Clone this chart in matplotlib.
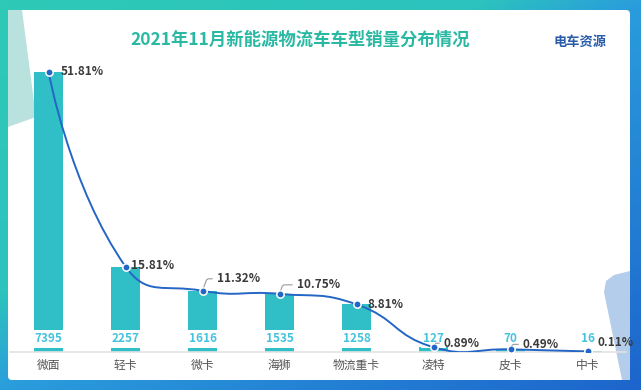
import numpy as np
import matplotlib.pyplot as plt
from matplotlib.path import Path
from matplotlib.patches import PathPatch, FancyBboxPatch, Polygon
from matplotlib.colors import LinearSegmentedColormap

plt.rcParams['font.family'] = ['Noto Sans CJK SC', 'DejaVu Sans']

# data
categories = ['微面', '轻卡', '微卡', '海狮', '物流重卡', '凌特', '皮卡', '中卡']
sales = [7395, 2257, 1616, 1535, 1258, 127, 70, 16]
shares = [51.81, 15.81, 11.32, 10.75, 8.81, 0.89, 0.49, 0.11]
title = '2021年11月新能源物流车车型销量分布情况'

# label offsets in px (dx, dy up), and whether a leader line is drawn
pct_offsets = [(12, 0), (5, 1), (14, 12), (17, 9), (11, 0), (10, 4), (12, 5), (10, 9)]
pct_leader = [False, False, True, True, False, True, True, False]

W, H = 641, 390
fig = plt.figure(figsize=(W / 100, H / 100), dpi=100)

# background frame with gradient
bg = fig.add_axes([0, 0, 1, 1])
bg.set_axis_off()
yy, xx = np.mgrid[0:H, 0:W]
t = (xx / W + yy / H) / 2
cmap = LinearSegmentedColormap.from_list(
    'frame', [(0, '#2ecab6'), (0.38, '#2cc2bf'), (0.5, '#2a9ddc'), (1, '#1d64cc')])
bg.imshow(t, cmap=cmap, extent=[0, W, H, 0], aspect='auto', vmin=0, vmax=1)
bg.set_xlim(0, W)
bg.set_ylim(H, 0)
bg.add_patch(FancyBboxPatch((8, 10), 622, 370, boxstyle='round,pad=0,rounding_size=4',
                            fc='white', ec='none'))
bg.add_patch(Polygon([(8, 10), (22, 10), (36, 117), (8, 127)], closed=True,
                     fc='#b9e1dd', ec='none'))
bg.add_patch(Polygon([(604, 292), (606, 281), (614, 275), (630, 271), (630, 380), (622, 380)],
                     closed=True, fc='#b3cdea', ec='none'))

fig.text(300 / W, 1 - 40 / H, title, ha='center', va='center', fontsize=12.5,
         fontweight='bold', color='#29b9a3')
fig.text(580 / W, 1 - 42 / H, '电车资源', ha='center', va='center', fontsize=9.5,
         fontweight='bold', color='#2a5caa')

# main chart
ax = fig.add_axes([10 / W, 38 / H, 616 / W, 303 / H])
ax.patch.set_alpha(0)
x = np.arange(len(categories))
ax.set_xlim(-0.5, len(categories) - 0.5)
ax.set_ylim(0, 8000)
for s in ['top', 'right', 'left']:
    ax.spines[s].set_visible(False)
ax.spines['bottom'].set_color('#e3e3e3')
ax.spines['bottom'].set_linewidth(1.2)
ax.set_yticks([])
ax.set_xticks(x)
ax.set_xticklabels(categories, fontsize=8.5, color='#555555')
ax.tick_params(axis='x', length=0, pad=5)

ax.bar(x, sales, width=0.38, color='#31bfc7', zorder=2)

for i, v in enumerate(sales):
    ax.annotate(str(v), (i, 0), xytext=(0, 9.4), textcoords='offset points',
                ha='center', va='center', fontsize=8.5, fontweight='bold', color='#45c3dc',
                bbox=dict(boxstyle='square,pad=0.2', fc='white', ec='none'), zorder=3)

# smooth line (bezier like echarts smooth=0.5)
fig.canvas.draw()
P = ax.transData.transform(np.column_stack([x, sales]))
n = len(P)
cin = P.copy()
cout = P.copy()
smooth = 0.5
for i in range(1, n - 1):
    v = P[i + 1] - P[i - 1]
    d0 = np.linalg.norm(P[i] - P[i - 1])
    d1 = np.linalg.norm(P[i + 1] - P[i])
    cin[i] = P[i] - v * smooth * d0 / (d0 + d1)
    cout[i] = P[i] + v * smooth * d1 / (d0 + d1)
verts = [P[0]]
codes = [Path.MOVETO]
for i in range(n - 1):
    verts += [cout[i], cin[i + 1], P[i + 1]]
    codes += [Path.CURVE4] * 3
verts = ax.transData.inverted().transform(np.array(verts))
ax.add_patch(PathPatch(Path(verts, codes), fc='none', ec='#2466c5', lw=1.4, zorder=4))
ax.scatter(x, sales, s=28, color='#2466c5', edgecolors='white', linewidths=1.1, zorder=5)

for i, p in enumerate(shares):
    dx, dy = pct_offsets[i]
    kw = {}
    if pct_leader[i]:
        kw['arrowprops'] = dict(arrowstyle='-', color='#9a9a9a', lw=0.8,
                                connectionstyle='angle,angleA=0,angleB=70,rad=2',
                                shrinkA=1, shrinkB=3)
    ax.annotate(f'{p:.2f}%', (i, sales[i]), xytext=(dx * 0.72, dy * 0.72),
                textcoords='offset points', ha='left', va='center', fontsize=8.5,
                fontweight='bold', color='#3a3a3a', zorder=6, **kw)

fig.savefig('out.png', dpi=100)
